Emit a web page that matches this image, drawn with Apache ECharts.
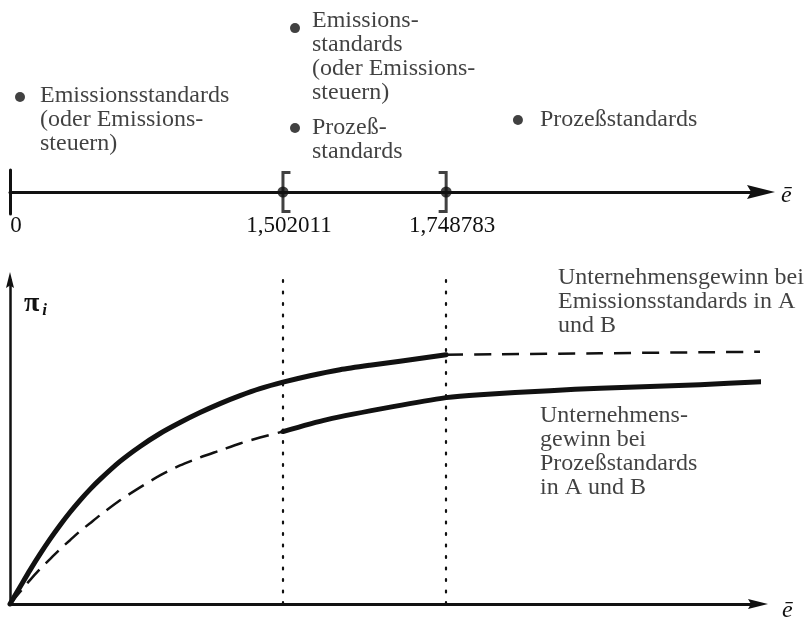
<!DOCTYPE html>
<html><head><meta charset="utf-8">
<script src="https://cdn.jsdelivr.net/npm/echarts@6/dist/echarts.min.js"></script>
<style>html,body{margin:0;padding:0;background:#fff}#c{width:812px;height:623px}</style>
</head><body><div id="c"></div>
<script>
// ---- data ----
const thresholds = [0, 1.502011, 1.748783];
const thresholdLabels = ['0', '1,502011', '1,748783'];
const thresholdX = [0, 36.3, 58.0];          // schematic position of each threshold on the e-axis

const regionNotes = [
  'Emissionsstandards\n(oder Emissions-\nsteuern)',
  'Emissions-\nstandards\n(oder Emissions-\nsteuern)',
  'Prozeß-\nstandards',
  'Prozeßstandards'
];
const noteDotPos  = [[1.33, 4.32], [37.9, 7.45], [37.9, 2.91], [67.55, 3.27]];
const noteTextPos = [[3.99, 4.93], [40.16, 8.34], [40.16, 3.45], [70.48, 3.82]];

// profit under emission standards
const emissionX = [0, 1.33, 2.66, 3.99, 5.32, 6.65, 7.98, 9.31, 10.64, 11.97, 14.63, 17.29, 19.95, 22.61, 25.27,
                   27.93, 30.59, 33.24, 36.3, 39.89, 43.88, 47.87, 51.86, 58.0, 65.16, 78.46, 91.76, 100];
const emissionY = [0, 5.23, 10.46, 15.38, 20.0, 24.31, 28.31, 32.0, 35.38, 38.46, 44.0, 48.62, 52.62, 56.0, 59.08,
                   61.85, 64.31, 66.46, 68.46, 70.46, 72.31, 73.69, 74.92, 76.92, 77.08, 77.38, 77.69, 77.85];
// profit under process standards
const processX  = [0, 1.33, 2.66, 3.99, 5.32, 6.65, 7.98, 9.31, 10.64, 11.97, 14.63, 17.29, 19.95, 22.61, 25.27,
                   27.93, 30.59, 33.24, 36.3, 42.15, 50.93, 58.0, 62.5, 71.81, 78.46, 91.76, 100];
const processY  = [0, 3.69, 7.38, 10.77, 13.85, 16.92, 19.69, 22.46, 24.92, 27.38, 32.0, 36.0, 39.69, 42.77, 45.23,
                   47.38, 49.54, 51.38, 53.23, 56.92, 60.92, 63.69, 64.62, 65.85, 66.62, 67.69, 68.62];

const curveNotes = [
  'Unternehmensgewinn bei\nEmissionsstandards in A\nund B',
  'Unternehmens-\ngewinn bei\nProzeßstandards\nin A und B'
];
const curveNotePos = [[72.87, 104.3], [70.48, 61.8]];

// ---- chart ----
const FONT = '"Liberation Serif", "Times New Roman", serif';
const INK = '#111';
const ARROW = 'path://M5,0L10,20L5,17L0,20Z';
const pts = (xs, ys) => xs.map((x, i) => [x, ys[i]]);
const emission = pts(emissionX, emissionY);
const processP = pts(processX, processY);
const sw1 = thresholdX[1], sw2 = thresholdX[2];

const textStyle = {fontFamily: FONT, fontSize: 24, lineHeight: 24, color: INK};

const chart = echarts.init(document.getElementById('c'), null, {renderer: 'canvas'});
chart.setOption({
  animation: false,
  backgroundColor: '#fff',
  grid: [
    {left: 10, right: 51, top: 170, height: 44},
    {left: 10, right: 54, top: 280, bottom: 18}
  ],
  xAxis: [
    {
      gridIndex: 0, type: 'value', min: 0, max: 99.87,
      axisLine: {show: true, onZero: true, symbol: ['none', ARROW], symbolSize: [17, 28],
        lineStyle: {color: INK, width: 3}},
      axisTick: {show: false}, splitLine: {show: false},
      axisLabel: {
        show: true, customValues: thresholdX,
        formatter: v => { const i = thresholdX.indexOf(v); return i >= 0 ? thresholdLabels[i] : ''; },
        margin: 0, fontFamily: FONT, fontSize: 23, color: INK, padding: [0, 0, 0, 12]
      },
      name: 'ē', nameLocation: 'end', nameGap: 20,
      nameTextStyle: {fontFamily: FONT, fontStyle: 'italic', fontSize: 24, color: INK,
        verticalAlign: 'top', lineHeight: 8}
    },
    {
      gridIndex: 1, type: 'value', min: 0, max: 99.47,
      axisLine: {show: true, symbol: ['none', ARROW], symbolSize: [11, 20],
        lineStyle: {color: INK, width: 3}},
      axisTick: {show: false}, axisLabel: {show: false}, splitLine: {show: false},
      name: 'ē', nameLocation: 'end', nameGap: 24,
      nameTextStyle: {fontFamily: FONT, fontStyle: 'italic', fontSize: 24, color: INK,
        verticalAlign: 'top', lineHeight: 14}
    }
  ],
  yAxis: [
    {
      gridIndex: 0, type: 'value', min: -1, max: 1,
      axisLine: {show: true, lineStyle: {color: INK, width: 3}},
      axisTick: {show: false}, axisLabel: {show: false}, splitLine: {show: false}
    },
    {
      gridIndex: 1, type: 'value', min: 0, max: 100,
      axisLine: {show: true, symbol: ['none', ARROW], symbolSize: [9, 16],
        lineStyle: {color: INK, width: 2.5}},
      axisTick: {show: false}, axisLabel: {show: false}, splitLine: {show: false},
      name: '{p|π}{s|i}', nameLocation: 'end', nameGap: -24,
      nameTextStyle: {
        align: 'left', verticalAlign: 'middle', padding: [0, 0, 0, 14],
        rich: {
          p: {fontFamily: FONT, fontSize: 28, fontWeight: 'bold', color: INK},
          s: {fontFamily: FONT, fontSize: 17, fontStyle: 'italic', fontWeight: 'bold', color: INK, padding: [14, 0, 0, 3]}
        }
      }
    }
  ],
  series: [
    // threshold dots on the number line
    {
      type: 'scatter', xAxisIndex: 0, yAxisIndex: 0, silent: true,
      data: thresholdX.slice(1).map(x => [x, 0]),
      symbol: 'circle', symbolSize: 11, itemStyle: {color: INK}, z: 5
    },
    // brackets
    {
      type: 'scatter', xAxisIndex: 0, yAxisIndex: 0, silent: true, clip: false,
      data: [
        {value: [thresholdX[1], 0], symbol: 'path://M0,0H9V3H3V39H9V42H0Z', symbolOffset: [3, 0]},
        {value: [thresholdX[2], 0], symbol: 'path://M0,0H9V42H0V39H6V3H0Z', symbolOffset: [-3, 0]}
      ],
      symbolSize: [9, 42], itemStyle: {color: INK}, z: 4
    },
    // region note dots
    {
      type: 'scatter', xAxisIndex: 0, yAxisIndex: 0, silent: true, clip: false,
      data: noteDotPos, symbol: 'circle', symbolSize: 10, itemStyle: {color: INK}
    },
    // region note texts
    {
      type: 'scatter', xAxisIndex: 0, yAxisIndex: 0, silent: true, clip: false,
      data: noteTextPos, symbolSize: 1, itemStyle: {color: 'rgba(0,0,0,0)'},
      label: Object.assign({show: true, position: 'inside', align: 'left', verticalAlign: 'top',
        formatter: p => regionNotes[p.dataIndex]}, textStyle)
    },
    // emission standards profit: solid before second threshold, dashed after
    {
      type: 'line', xAxisIndex: 1, yAxisIndex: 1, silent: true, clip: false,
      data: emission.filter(p => p[0] <= sw2), showSymbol: false, smooth: 0.25,
      lineStyle: {color: INK, width: 5, cap: 'round', join: 'round'}
    },
    {
      type: 'line', xAxisIndex: 1, yAxisIndex: 1, silent: true, clip: false,
      data: emission.filter(p => p[0] >= sw2), showSymbol: false, smooth: 0.25,
      lineStyle: {color: INK, width: 2.5, type: [17, 11]}
    },
    // process standards profit: dashed before first threshold, solid after
    {
      type: 'line', xAxisIndex: 1, yAxisIndex: 1, silent: true, clip: false,
      data: processP.filter(p => p[0] <= sw1), showSymbol: false, smooth: 0.25,
      lineStyle: {color: INK, width: 2.5, type: [18, 9]}
    },
    {
      type: 'line', xAxisIndex: 1, yAxisIndex: 1, silent: true, clip: false,
      data: processP.filter(p => p[0] >= sw1), showSymbol: false, smooth: 0.25,
      lineStyle: {color: INK, width: 5, cap: 'round', join: 'round'},
      markLine: {
        silent: true, symbol: ['none', 'none'], label: {show: false},
        lineStyle: {color: INK, width: 2.2, type: [2, 9.5], cap: 'round'},
        data: thresholdX.slice(1).map(x => ({xAxis: x}))
      }
    },
    // curve labels
    {
      type: 'scatter', xAxisIndex: 1, yAxisIndex: 1, silent: true, clip: false,
      data: curveNotePos, symbolSize: 1, itemStyle: {color: 'rgba(0,0,0,0)'},
      label: Object.assign({show: true, position: 'inside', align: 'left', verticalAlign: 'top',
        formatter: p => curveNotes[p.dataIndex]}, textStyle)
    }
  ]
});
</script>
</body></html>
